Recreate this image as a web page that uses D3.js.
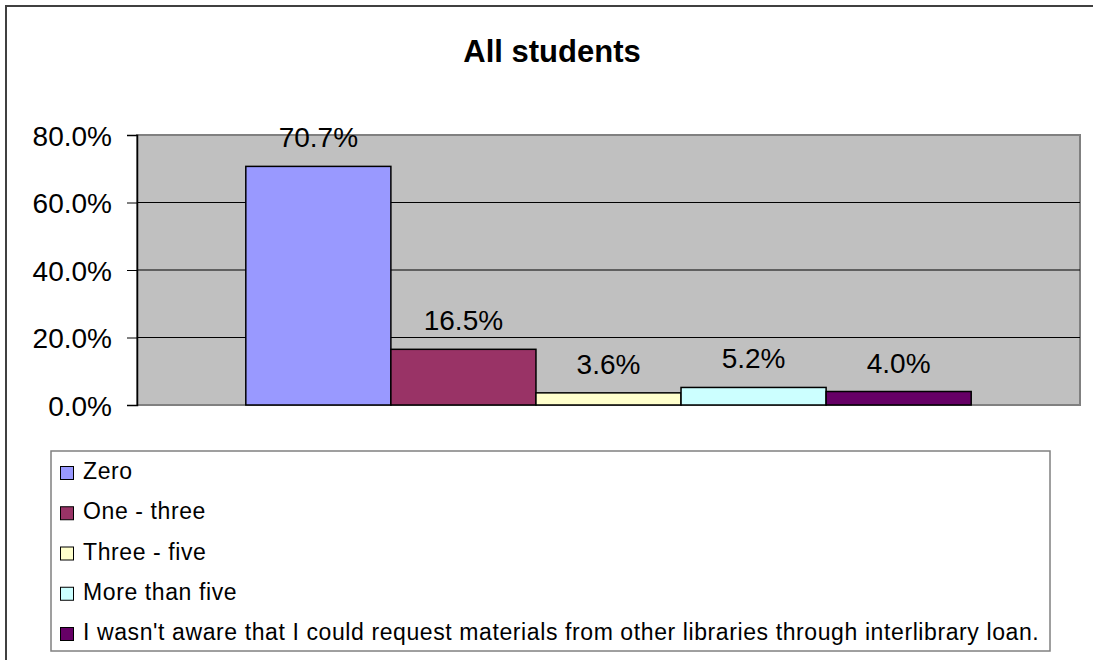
<!DOCTYPE html>
<html>
<head>
<meta charset="utf-8">
<script src="https://cdn.jsdelivr.net/npm/d3@7/dist/d3.min.js"></script>
<style>
  html, body { margin: 0; padding: 0; background: #fff; }
  svg { display: block; }
  text { font-family: Arial, "Liberation Sans", Helvetica, sans-serif; fill: #000; }
</style>
</head>
<body>
<svg id="chart" width="1093" height="660"></svg>
<script>
const chartTitle = "All students";
const categories = [
  "Zero",
  "One - three",
  "Three - five",
  "More than five",
  "I wasn't aware that I could request materials from other libraries through interlibrary loan."
];
const values = [70.7, 16.5, 3.6, 5.2, 4.0];
const barColors = ["#9999FF", "#993366", "#FFFFCC", "#CCFFFF", "#660066"];
const yTicks = [0, 20, 40, 60, 80];
const gridTicks = [20, 40, 60];

const svg = d3.select("#chart");

// outer chart frame
svg.append("rect")
  .attr("x", 6).attr("y", 6)
  .attr("width", 1100).attr("height", 680)
  .attr("fill", "#fff").attr("stroke", "#404040").attr("stroke-width", 2);

// title
svg.append("text")
  .attr("x", 552).attr("y", 62)
  .attr("text-anchor", "middle")
  .style("font-size", "31px").style("font-weight", "bold")
  .text(chartTitle);

const plot = { left: 137, right: 1080, top: 135, bottom: 405 };

const x = d3.scaleBand()
  .domain(categories)
  .range([plot.left, plot.right])
  .paddingInner(0)
  .paddingOuter(0.75);

const y = d3.scaleLinear().domain([0, 80]).range([plot.bottom, plot.top]);

// plot area background
svg.append("rect")
  .attr("x", plot.left).attr("y", plot.top)
  .attr("width", plot.right - plot.left).attr("height", plot.bottom - plot.top)
  .attr("fill", "#C0C0C0").attr("stroke", "#808080").attr("stroke-width", 2);

// gridlines
svg.append("g").selectAll("line").data(gridTicks).join("line")
  .attr("x1", plot.left).attr("x2", plot.right)
  .attr("y1", d => y(d)).attr("y2", d => y(d))
  .attr("stroke", "#000").attr("stroke-width", 1);

// bars
svg.append("g").selectAll("rect").data(categories).join("rect")
  .attr("x", d => x(d))
  .attr("y", (d, i) => y(values[i]))
  .attr("width", x.bandwidth())
  .attr("height", (d, i) => y(0) - y(values[i]))
  .attr("fill", (d, i) => barColors[i])
  .attr("stroke", "#000").attr("stroke-width", 1.5);

// data labels
svg.append("g").selectAll("text").data(categories).join("text")
  .attr("x", d => x(d) + x.bandwidth() / 2)
  .attr("y", (d, i) => y(values[i]) - 19)
  .attr("text-anchor", "middle")
  .style("font-size", "28px")
  .text((d, i) => d3.format(".1f")(values[i]) + "%");

// y axis
const yAxis = d3.axisLeft(y)
  .tickValues(yTicks)
  .tickSize(10)
  .tickPadding(15)
  .tickFormat(d => d3.format(".1f")(d) + "%");

const gy = svg.append("g")
  .attr("transform", `translate(${plot.left},0)`)
  .call(yAxis);
gy.select(".domain").attr("stroke", "#000").attr("stroke-width", 1.5);
gy.selectAll(".tick line").attr("stroke", "#000").attr("stroke-width", 1);
gy.selectAll(".tick text")
  .style("font-size", "28px")
  .style("font-family", "Arial, 'Liberation Sans', sans-serif")
  .attr("fill", "#000")
  .attr("dy", "0.36em");

// legend
const legend = { left: 51, top: 451, right: 1050, bottom: 651 };
svg.append("rect")
  .attr("x", legend.left).attr("y", legend.top)
  .attr("width", legend.right - legend.left).attr("height", legend.bottom - legend.top)
  .attr("fill", "#fff").attr("stroke", "#808080").attr("stroke-width", 1.5);

const legendRow = d3.scalePoint()
  .domain(categories)
  .range([479, 640]);

const lg = svg.append("g").selectAll("g").data(categories).join("g")
  .attr("transform", d => `translate(0,${legendRow(d)})`);
lg.append("rect")
  .attr("x", 60.5).attr("y", -12.5)
  .attr("width", 13).attr("height", 13)
  .attr("fill", (d, i) => barColors[i])
  .attr("stroke", "#000").attr("stroke-width", 1);
lg.append("text")
  .attr("x", 83).attr("y", 0)
  .style("font-size", "23px")
  .style("letter-spacing", "0.6px")
  .text(d => d);
</script>
</body>
</html>
